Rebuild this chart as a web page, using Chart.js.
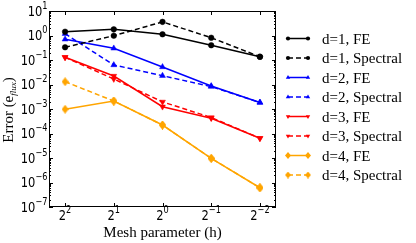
<!DOCTYPE html>
<html>
<head>
<meta charset="utf-8">
<script src="https://cdn.jsdelivr.net/npm/chart.js@4.4.1/dist/chart.umd.min.js"></script>
<style>
  html, body { margin: 0; padding: 0; background: #fff; }
  #wrap { width: 416px; height: 243px; }
</style>
</head>
<body>
<div id="wrap"><canvas id="chart" width="416" height="243"></canvas></div>
<script>
// mesh parameter h = 2^exp, plotted at evenly spaced positions
const meshPos = [0, 1, 2, 3, 4];
const meshExps = ['2', '1', '0', '\u22121', '\u22122'];
const yTickExps = [1, 0, -1, -2, -3, -4, -5, -6, -7];

const d1FE = [1.43, 1.78, 1.12, 0.40, 0.136];
const d1Spectral = [0.33, 0.98, 3.6, 0.81, 0.136];
const d2FE = [0.70, 0.30, 0.052, 0.0087, 0.00185];
const d2Spectral = [1.18, 0.0625, 0.0229, 0.0082, 0.00185];
const d3FE = [0.129, 0.0222, 0.00124, 0.00042, 0.000064];
const d3Spectral = [0.129, 0.0168, 0.00195, 0.00045, 0.000064];
const d4FE = [0.00098, 0.00212, 0.000222, 0.0000097, 0.00000061];
const d4Spectral = [0.0130, 0.00212, 0.000222, 0.0000097, 0.00000061];

const BLACK = '#000000', BLUE = '#0000ff', RED = '#ff0000', ORANGE = '#ffa500';

// thin diamond marker (matplotlib 'd')
function thinDiamond(color, w, h) {
  const c = document.createElement('canvas');
  c.width = w; c.height = h;
  const g = c.getContext('2d');
  g.fillStyle = color;
  g.beginPath();
  g.moveTo(w / 2, 0); g.lineTo(w, h / 2); g.lineTo(w / 2, h); g.lineTo(0, h / 2);
  g.closePath();
  g.fill();
  return c;
}
const orangeDiamond = thinDiamond(ORANGE, 7, 9);
const orangeDiamondSmall = thinDiamond(ORANGE, 6, 7);

const toPts = vals => vals.map((v, i) => ({ x: meshPos[i], y: v }));

function series(label, vals, color, style, dashed) {
  return {
    label,
    data: toPts(vals),
    borderColor: color,
    backgroundColor: color,
    borderWidth: 1.5,
    borderDash: dashed ? [5, 3] : [],
    pointStyle: style.shape,
    legendShape: style.legendShape || style.shape,
    pointRotation: style.rotation || 0,
    pointRadius: style.radius,
    pointBorderWidth: 0.5,
    pointHoverRadius: style.radius,
    tension: 0,
    fill: false,
  };
}

const circle = { shape: 'circle', radius: 2.8 };
const triUp = { shape: 'triangle', radius: 3.4 };
const triDown = { shape: 'triangle', rotation: 180, radius: 3.4 };
const diamond = { shape: orangeDiamond, legendShape: orangeDiamondSmall, radius: 4 };

const datasets = [
  series('d=1, FE', d1FE, BLACK, circle, false),
  series('d=1, Spectral', d1Spectral, BLACK, circle, true),
  series('d=2, FE', d2FE, BLUE, triUp, false),
  series('d=2, Spectral', d2Spectral, BLUE, triUp, true),
  series('d=3, FE', d3FE, RED, triDown, false),
  series('d=3, Spectral', d3Spectral, RED, triDown, true),
  series('d=4, FE', d4FE, ORANGE, diamond, false),
  series('d=4, Spectral', d4Spectral, ORANGE, diamond, true),
];
datasets.forEach((d, i) => { d.order = i; });

const SANS = '"DejaVu Sans", sans-serif';
const SERIF = '"Liberation Serif", "DejaVu Serif", serif';
const SQUEEZE = 0.82; // tick labels are narrow in the original

// draw text with horizontal squeeze, anchored at its left edge
function narrowText(ctx, text, font, x, y) {
  ctx.save();
  ctx.font = font;
  ctx.textAlign = 'left';
  ctx.translate(x, y);
  ctx.scale(SQUEEZE, 1);
  ctx.fillText(text, 0, 0);
  ctx.restore();
}
function narrowWidth(ctx, text, font) {
  ctx.font = font;
  return ctx.measureText(text).width * SQUEEZE;
}

const decor = {
  id: 'decor',
  afterDraw(chart) {
    const { ctx, chartArea: a } = chart;
    const xs = chart.scales.x, ys = chart.scales.y;
    ctx.save();

    // frame
    ctx.strokeStyle = '#000';
    ctx.lineWidth = 1;
    ctx.strokeRect(a.left + 0.5, a.top + 0.5, a.right - a.left - 1, a.bottom - a.top - 1);

    // y ticks (major + minor), inward on both sides
    ctx.beginPath();
    yTickExps.forEach(e => {
      const y = Math.round(ys.getPixelForValue(Math.pow(10, e))) + 0.5;
      ctx.moveTo(a.left, y); ctx.lineTo(a.left + 4, y);
      ctx.moveTo(a.right, y); ctx.lineTo(a.right - 4, y);
      if (e > -7) {
        for (let m = 2; m <= 9; m++) {
          const ym = Math.round(ys.getPixelForValue(m * Math.pow(10, e - 1))) + 0.5;
          ctx.moveTo(a.left, ym); ctx.lineTo(a.left + 2, ym);
          ctx.moveTo(a.right, ym); ctx.lineTo(a.right - 2, ym);
        }
      }
    });
    // x ticks top + bottom
    meshPos.forEach(p => {
      const x = Math.round(xs.getPixelForValue(p)) + 0.5;
      ctx.moveTo(x, a.bottom); ctx.lineTo(x, a.bottom - 4);
      ctx.moveTo(x, a.top); ctx.lineTo(x, a.top + 4);
    });
    ctx.stroke();

    ctx.fillStyle = '#000';
    ctx.textBaseline = 'alphabetic';
    const baseFont = '14px ' + SANS;
    const supFont = '10px ' + SANS;

    // y tick labels 10^e
    yTickExps.forEach(e => {
      const y = ys.getPixelForValue(Math.pow(10, e));
      const sup = e < 0 ? '\u2212' + (-e) : String(e);
      const sw = narrowWidth(ctx, sup, supFont);
      const bw = narrowWidth(ctx, '10', baseFont);
      const right = 47.5;
      narrowText(ctx, sup, supFont, right - sw, y - 2.5);
      narrowText(ctx, '10', baseFont, right - sw - bw, y + 4.5);
    });

    // x tick labels 2^e
    meshPos.forEach((p, i) => {
      const x = xs.getPixelForValue(p);
      const bw = narrowWidth(ctx, '2', baseFont);
      const sw = narrowWidth(ctx, meshExps[i], supFont);
      const x0 = x - (bw + sw) / 2;
      narrowText(ctx, '2', baseFont, x0, 219.5);
      narrowText(ctx, meshExps[i], supFont, x0 + bw, 213);
    });

    // x axis title
    ctx.font = '15px ' + SERIF;
    ctx.textAlign = 'center';
    ctx.fillText('Mesh parameter (h)', (a.left + a.right) / 2, 237);

    // y axis title, rotated
    ctx.save();
    ctx.translate(13, 110);
    ctx.rotate(-Math.PI / 2);
    ctx.textAlign = 'left';
    const parts = [
      ['Error (e', '15px ' + SERIF, 0],
      ['flux', 'italic 9px ' + SERIF, 3],
      [')', '15px ' + SERIF, 0],
    ];
    let total = 0;
    parts.forEach(([t, f]) => { ctx.font = f; total += ctx.measureText(t).width; });
    let cx = -total / 2;
    parts.forEach(([t, f, dy]) => {
      ctx.font = f;
      ctx.fillText(t, cx, dy);
      cx += ctx.measureText(t).width;
    });
    ctx.restore();

    // legend
    chart.data.datasets.forEach((d, i) => {
      const y = 38.5 + i * 19.5;
      ctx.save();
      ctx.strokeStyle = d.borderColor;
      ctx.lineWidth = d.borderWidth;
      ctx.setLineDash(d.borderDash);
      ctx.beginPath();
      ctx.moveTo(288, y); ctx.lineTo(308, y);
      ctx.stroke();
      ctx.setLineDash([]);
      ctx.fillStyle = d.backgroundColor;
      [288, 308].forEach(px => {
        Chart.helpers.drawPoint(ctx, {
          pointStyle: d.legendShape,
          radius: d.pointRadius * 0.75,
          rotation: d.pointRotation,
          borderWidth: 0,
        }, px, y);
      });
      ctx.restore();
      ctx.fillStyle = '#000';
      ctx.font = '15px ' + SERIF;
      ctx.textAlign = 'left';
      ctx.fillText(d.label, 322, y + 5);
    });

    ctx.restore();
  },
};

new Chart(document.getElementById('chart'), {
  type: 'line',
  data: { datasets },
  options: {
    responsive: false,
    animation: false,
    layout: { padding: { left: 49, right: 140, top: 11, bottom: 36 } },
    plugins: { legend: { display: false }, tooltip: { enabled: false } },
    scales: {
      x: { type: 'linear', min: -0.33, max: 4.33, display: false },
      y: { type: 'logarithmic', min: 1e-7, max: 10, display: false },
    },
  },
  plugins: [decor],
});
</script>
</body>
</html>
